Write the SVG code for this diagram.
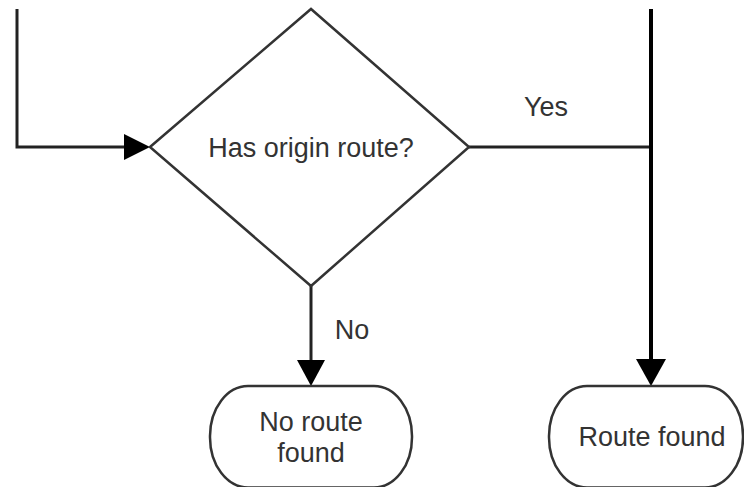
<svg xmlns="http://www.w3.org/2000/svg" width="744" height="487" viewBox="0 0 744 487">
<defs>
<style>
.shape{fill:#fff;stroke:#333;stroke-width:2.5}
.lbl{font-family:"Liberation Sans",Arial,sans-serif;font-size:27px;fill:#333;text-anchor:middle}
.edge{fill:none;stroke:#222;stroke-width:3}
</style>
</defs>
<rect width="744" height="487" fill="#fff"/>
<g id="connectors">
<polyline class="edge" points="17,9 17,147 126,147"/>
<polygon points="124,134 150,147 124,160" fill="#000"/>
<line class="edge" x1="469" y1="147" x2="651" y2="147"/>
<line x1="651" y1="9" x2="651" y2="360" stroke="#000" stroke-width="4"/>
<polygon points="636,359 666,359 651,386" fill="#000"/>
<line class="edge" x1="311" y1="286" x2="311" y2="362"/>
<polygon points="297,360 325,360 311,386" fill="#000"/>
<text class="lbl" x="546" y="116">Yes</text>
<text class="lbl" x="352" y="339">No</text>
</g>
<g id="decision">
<polygon class="shape" points="150,147 311,9 469,147 311,286"/>
<text class="lbl" x="311" y="157">Has origin route?</text>
</g>
<g id="no-route">
<rect class="shape" x="210" y="386" width="202" height="101.5" rx="38" ry="50"/>
<text class="lbl" x="311" y="431">No route</text>
<text class="lbl" x="311" y="462">found</text>
</g>
<g id="route-found">
<rect class="shape" x="549" y="386" width="194" height="101.5" rx="38" ry="50"/>
<text class="lbl" x="652" y="446">Route found</text>
</g>
</svg>
